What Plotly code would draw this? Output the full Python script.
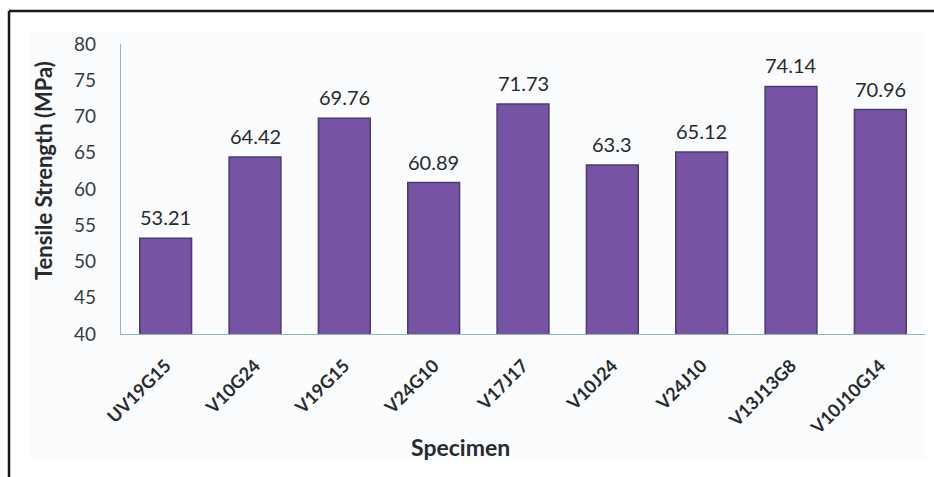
import plotly.graph_objects as go

specimens = ["UV19G15", "V10G24", "V19G15", "V24G10", "V17J17",
             "V10J24", "V24J10", "V13J13G8", "V10J10G14"]
tensile_strength = [53.21, 64.42, 69.76, 60.89, 71.73, 63.3, 65.12, 74.14, 70.96]
y_ticks = [40, 45, 50, 55, 60, 65, 70, 75, 80]

FONT = "Lato, 'Noto Sans', sans-serif"
TEXT = "#262b2e"

# plot area in pixels: x 121..925, y 44..334
L, R, T, B = 121, 9, 44, 143
W, H = 934, 477
pw, ph = W - L - R, H - T - B


def px(x):
    return (x - L) / pw


def py(y):
    return (H - B - y) / ph


fig = go.Figure()
fig.add_trace(go.Bar(
    x=specimens,
    y=tensile_strength,
    marker=dict(color="#7753a3", line=dict(color="#4a3b78", width=1.5)),
    width=0.58,
))

shapes = [
    # light chart-area background
    dict(type="rect", xref="paper", yref="paper", layer="below",
         x0=px(30), x1=px(925), y0=py(460), y1=py(32),
         fillcolor="#fbfcfe", line=dict(width=0)),
    # outer frame (top and left)
    dict(type="line", xref="paper", yref="paper",
         x0=px(9), x1=px(934), y0=py(11), y1=py(11),
         line=dict(color="#1a1a1a", width=2.5)),
    dict(type="line", xref="paper", yref="paper",
         x0=px(9), x1=px(9), y0=py(11), y1=py(477),
         line=dict(color="#1a1a1a", width=2.5)),
]

# value labels above each bar
annotations = [
    dict(x=s, y=v, text=f"{v:g}", showarrow=False, yanchor="bottom",
         yshift=7, font=dict(family=FONT, size=20, color=TEXT))
    for s, v in zip(specimens, tensile_strength)
]

annotations += [
    dict(text="<b>Tensile Strength (MPa)</b>", xref="paper", yref="paper",
         x=px(43), y=py(171), xanchor="center", yanchor="middle",
         textangle=-90, showarrow=False,
         font=dict(family=FONT, size=22, color=TEXT)),
    dict(text="<b>Specimen</b>", xref="paper", yref="paper",
         x=px(460), y=py(447), xanchor="center", yanchor="middle",
         showarrow=False,
         font=dict(family=FONT, size=23, color=TEXT)),
]

fig.update_layout(
    width=W, height=H,
    margin=dict(l=L, r=R, t=T, b=B),
    paper_bgcolor="white",
    plot_bgcolor="rgba(0,0,0,0)",
    showlegend=False,
    shapes=shapes,
    annotations=annotations,
    xaxis=dict(
        tickangle=-45,
        tickfont=dict(family=FONT, size=18, color=TEXT, weight="bold"),
        showline=True, linecolor="#8fb3c4", linewidth=1.2,
        showgrid=False, ticks="", ticklabelstandoff=13,
    ),
    yaxis=dict(
        range=[40, 80],
        tickvals=y_ticks,
        tickfont=dict(family=FONT, size=19, color="#383c3e"),
        showline=True, linecolor="#8fb3c4", linewidth=1.2,
        showgrid=False, zeroline=False, ticks="", ticklabelstandoff=20,
    ),
)

fig.write_html("out.html")
